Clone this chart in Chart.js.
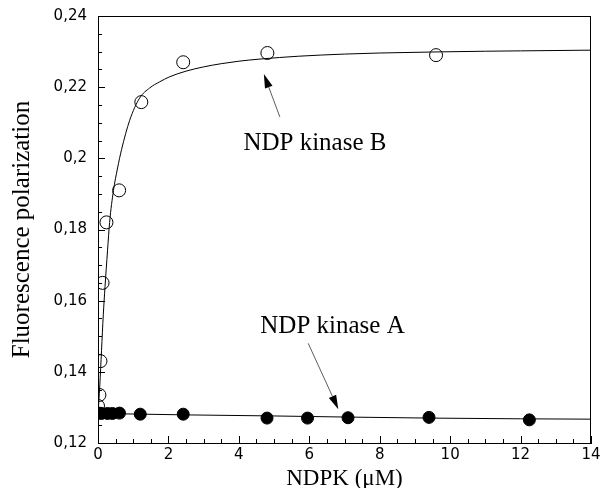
<!DOCTYPE html>
<html>
<head>
<meta charset="utf-8">
<script src="https://cdn.jsdelivr.net/npm/chart.js@4.4.1/dist/chart.umd.min.js"></script>
<style>
  html, body { margin: 0; padding: 0; background: #fff; }
  #wrap { width: 601px; height: 488px; }
</style>
</head>
<body>
<div id="wrap"><canvas id="myChart"></canvas></div>
<script>
// NDP kinase B, open circles
const kinaseBX = [0, 0.04, 0.07, 0.13, 0.24, 0.6, 1.23, 2.42, 4.81, 9.6];
const kinaseBY = [0.1304, 0.1335, 0.143, 0.165, 0.182, 0.191, 0.2158, 0.227, 0.2296, 0.229];

// NDP kinase A, filled circles
const kinaseAX = [0.03, 0.1, 0.27, 0.41, 0.61, 1.2, 2.42, 4.8, 5.95, 7.1, 9.4, 12.25];
const kinaseAY = [0.1284, 0.1283, 0.1283, 0.1283, 0.1284, 0.1281, 0.1281, 0.1270, 0.1270, 0.1271, 0.1272, 0.1265];

// fitted curves
const fitBX = [0, 0.05, 0.1, 0.15, 0.2, 0.27, 0.33, 0.44, 0.55, 0.67, 0.9, 1.18, 1.47, 1.75, 2.03, 2.5, 3, 3.5, 4, 4.6, 5.7, 7, 8, 9.6, 11, 12, 14];
const fitBY = [0.128, 0.136, 0.146, 0.156, 0.164, 0.174, 0.182, 0.191, 0.197, 0.2025, 0.2107, 0.2169, 0.2198, 0.2215, 0.2229, 0.2245, 0.2257, 0.2266, 0.2273, 0.2279, 0.2287, 0.2293, 0.2296, 0.2299, 0.2301, 0.2302, 0.2304];
const fitAX = [0, 2.5, 5, 7, 9.4, 12, 14];
const fitAY = [0.1283, 0.1279, 0.1276, 0.1273, 0.1270, 0.1268, 0.1267];

const xTicks = [0, 2, 4, 6, 8, 10, 12, 14];
const yTicks = [0.12, 0.14, 0.16, 0.18, 0.2, 0.22, 0.24];

const pairs = (xs, ys) => xs.map((v, i) => ({ x: v, y: ys[i] }));

// label anchors and arrows, in data units
const notes = [
  { text: 'NDP kinase B', x: 6.16, y: 0.2023, from: [5.165, 0.2116], to: [4.71, 0.2237] },
  { text: 'NDP kinase A', x: 6.66, y: 0.1509, from: [5.97, 0.1480], to: [6.824, 0.1295] }
];

function drawArrow(ctx, x0, y0, x1, y1) {
  const a = Math.atan2(y1 - y0, x1 - x0);
  const hl = 14, hw = 4;
  const bx = x1 - hl * Math.cos(a), by = y1 - hl * Math.sin(a);
  ctx.beginPath();
  ctx.moveTo(x0, y0);
  ctx.lineTo(bx, by);
  ctx.stroke();
  ctx.beginPath();
  ctx.moveTo(x1, y1);
  ctx.lineTo(bx + hw * Math.sin(a), by - hw * Math.cos(a));
  ctx.lineTo(bx - hw * Math.sin(a), by + hw * Math.cos(a));
  ctx.closePath();
  ctx.fill();
}

const frameAndNotes = {
  id: 'frameAndNotes',
  afterDatasetsDraw(chart) {
    const { ctx, chartArea: a, scales: { x, y } } = chart;
    ctx.save();
    ctx.strokeStyle = '#000';
    ctx.lineWidth = 1;
    ctx.beginPath();
    ctx.moveTo(a.left, a.top + 0.5);
    ctx.lineTo(a.right, a.top + 0.5);
    ctx.moveTo(a.right - 0.5, a.top);
    ctx.lineTo(a.right - 0.5, a.bottom);
    // inward ticks
    for (let i = 0; i <= 28; i++) {
      const px = Math.round(x.getPixelForValue(i * 0.5)) + 0.5;
      const len = i % 4 === 0 ? 7 : 4;
      ctx.moveTo(px, a.bottom);
      ctx.lineTo(px, a.bottom - len);
    }
    for (let i = 0; i <= 24; i++) {
      const py = Math.round(y.getPixelForValue(0.12 + i * 0.005)) + 0.5;
      const len = i % 4 === 0 ? 7 : 4;
      ctx.moveTo(a.left, py);
      ctx.lineTo(a.left + len, py);
    }
    ctx.stroke();

    ctx.strokeStyle = '#333';
    ctx.fillStyle = '#000';
    ctx.lineWidth = 0.8;
    ctx.font = '25px "Liberation Serif", "Times New Roman", serif';
    ctx.textAlign = 'center';
    ctx.textBaseline = 'alphabetic';
    notes.forEach(n => {
      ctx.fillText(n.text, x.getPixelForValue(n.x), y.getPixelForValue(n.y));
      drawArrow(ctx,
        x.getPixelForValue(n.from[0]), y.getPixelForValue(n.from[1]),
        x.getPixelForValue(n.to[0]), y.getPixelForValue(n.to[1]));
    });
    ctx.restore();
  }
};

const ctx = document.getElementById('myChart').getContext('2d');
new Chart(ctx, {
  type: 'scatter',
  data: {
    datasets: [
      {
        label: 'NDP kinase A',
        data: pairs(kinaseAX, kinaseAY),
        pointRadius: 6,
        pointBorderWidth: 1,
        pointBackgroundColor: '#000',
        pointBorderColor: '#000'
      },
      {
        label: 'NDP kinase B',
        data: pairs(kinaseBX, kinaseBY),
        pointRadius: 6.5,
        pointBorderWidth: 1,
        pointBackgroundColor: 'rgba(0,0,0,0)',
        pointBorderColor: '#000'
      },
      {
        label: 'fit A',
        data: pairs(fitAX, fitAY),
        showLine: true,
        pointRadius: 0,
        borderColor: '#000',
        borderWidth: 1
      },
      {
        label: 'fit B',
        data: pairs(fitBX, fitBY),
        showLine: true,
        pointRadius: 0,
        borderColor: '#000',
        borderWidth: 1,
        cubicInterpolationMode: 'monotone'
      }
    ]
  },
  options: {
    responsive: true,
    maintainAspectRatio: false,
    animation: false,
    layout: { padding: { top: 16, right: 10, left: 0, bottom: 0 } },
    plugins: { legend: { display: false }, tooltip: { enabled: false } },
    scales: {
      x: {
        type: 'linear',
        min: 0,
        max: 14,
        afterFit: s => { s.height = 45; s.paddingLeft = 0; s.paddingRight = 0; },
        afterBuildTicks: s => { s.ticks = xTicks.map(v => ({ value: v })); },
        grid: { display: false, drawTicks: false },
        border: { color: '#000', width: 1 },
        ticks: {
          padding: 3,
          color: '#000',
          maxRotation: 0,
          font: { family: '"DejaVu Sans", sans-serif', size: 15 }
        },
        title: {
          display: true,
          text: 'NDPK (μM)',
          color: '#000',
          padding: 0,
          font: { family: '"Liberation Serif", serif', size: 23, lineHeight: 0.8 }
        }
      },
      y: {
        type: 'linear',
        min: 0.12,
        max: 0.24,
        afterFit: s => { s.width = 98; s.paddingTop = 0; s.paddingBottom = 0; },
        afterBuildTicks: s => { s.ticks = yTicks.map(v => ({ value: v })); },
        grid: { display: false, drawTicks: false },
        border: { color: '#000', width: 1 },
        ticks: {
          padding: 11,
          color: '#000',
          font: { family: '"DejaVu Sans", sans-serif', size: 15 },
          callback: v => String(parseFloat(v.toFixed(2))).replace('.', ',')
        },
        title: {
          display: true,
          text: 'Fluorescence polarization',
          color: '#000',
          padding: { top: 7, bottom: 0 },
          font: { family: '"Liberation Serif", serif', size: 25, lineHeight: 1.2 }
        }
      }
    }
  },
  plugins: [frameAndNotes]
});
</script>
</body>
</html>
